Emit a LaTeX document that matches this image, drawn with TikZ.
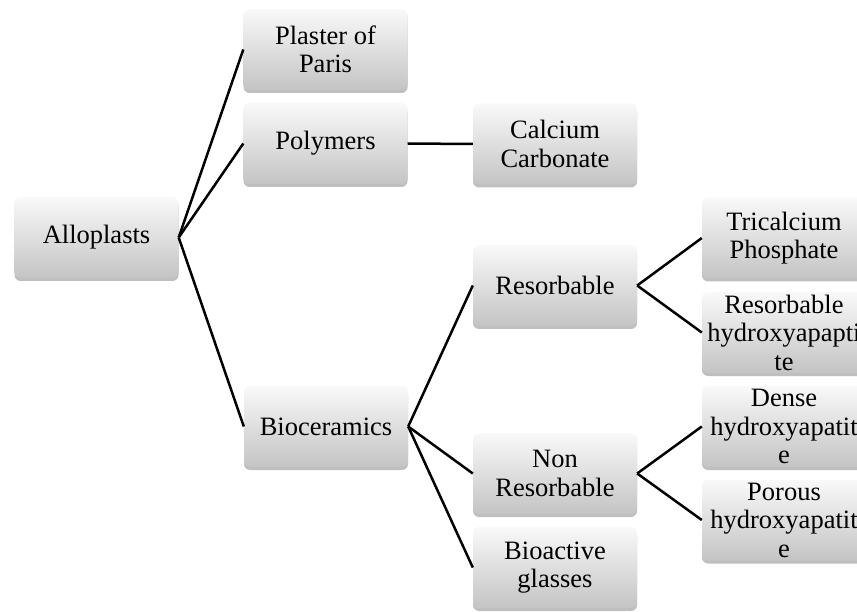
\documentclass[tikz,border=0pt]{standalone}
\usepackage{fontspec}
\setmainfont{Liberation Serif}
\usetikzlibrary{shadows}
\definecolor{boxtop}{RGB}{249,249,249}
\definecolor{boxbot}{RGB}{196,196,196}
\tikzset{
  cbox/.style={rounded corners=6pt, minimum width=164pt, minimum height=81pt,
    inner sep=1pt, align=center, top color=boxtop, bottom color=boxbot, draw=none,
    font=\fontsize{26.5}{28.5}\selectfont,
    drop shadow={shadow xshift=0pt, shadow yshift=-3pt, opacity=0.25, fill=black}},
  link/.style={line width=2.5pt, black}
}
\begin{document}
\begin{tikzpicture}[x=1pt,y=-1pt]
\useasboundingbox (0,0) rectangle (857,612);
\clip (0,0) rectangle (857,612);
\node[cbox] (allo) at (96.5,237.5) {Alloplasts};
\node[cbox] (plaster) at (325.5,49.5) {Plaster of\\Paris};
\node[cbox] (poly) at (325.5,143.5) {Polymers};
\node[cbox] (bio) at (326,426.5) {Bioceramics};
\node[cbox] (calc) at (555,144) {Calcium\\Carbonate};
\node[cbox] (res) at (555,285.5) {Resorbable};
\node[cbox] (nonres) at (555,473.5) {Non\\Resorbable};
\node[cbox] (bioact) at (555,567.5) {Bioactive\\glasses};
\node[cbox] (tri) at (784,238) {Tricalcium\\Phosphate};
\node[cbox] (rhyd) at (784,332.5) {Resorbable\\hydroxyapapti\\te};
\node[cbox] (dense) at (784,426.5) {Dense\\hydroxyapatit\\e};
\node[cbox] (porous) at (784,520) {Porous\\hydroxyapatit\\e};
\draw[link] (allo.east) -- (plaster.west);
\draw[link] (allo.east) -- (poly.west);
\draw[link] (allo.east) -- (bio.west);
\draw[link] (poly.east) -- (calc.west);
\draw[link] (bio.east) -- (res.west);
\draw[link] (bio.east) -- (nonres.west);
\draw[link] (bio.east) -- (bioact.west);
\draw[link] (res.east) -- (tri.west);
\draw[link] (res.east) -- (rhyd.west);
\draw[link] (nonres.east) -- (dense.west);
\draw[link] (nonres.east) -- (porous.west);
\end{tikzpicture}
\end{document}
